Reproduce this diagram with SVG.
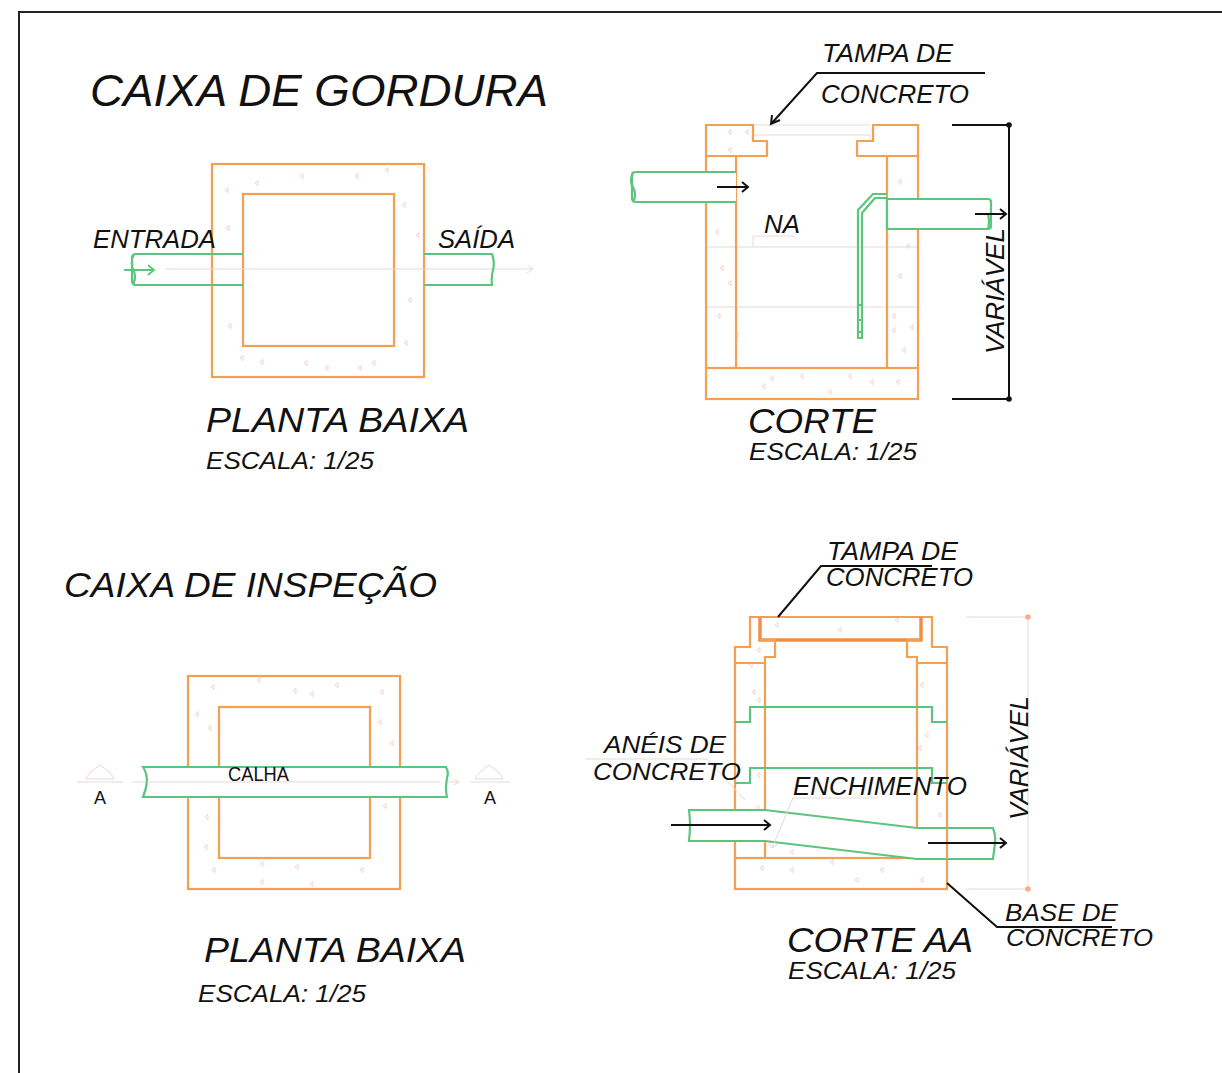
<svg xmlns="http://www.w3.org/2000/svg" width="1222" height="1073" viewBox="0 0 1222 1073">
<style>
text{font-family:"Liberation Sans",Arial,sans-serif;fill:#111;font-style:italic}
.u{font-style:normal}
.o{fill:none;stroke:#f59f52;stroke-width:2.2}
.ot{fill:none;stroke:#f28f3e;stroke-width:3.4}
.g{fill:none;stroke:#5cc47c;stroke-width:2.2}
.gf{fill:#fff;stroke:#5cc47c;stroke-width:2.2}
.k{fill:none;stroke:#111;stroke-width:2}
.f{fill:none;stroke:#e6d9d6;stroke-width:1}
.t{fill:none;stroke:#f3c0b8;stroke-width:.7}
</style>
<defs>
<path id="a" class="t" d="M0 0l3-2.5v5z"/>
</defs>
<rect width="1222" height="1073" fill="#fff"/>
<path d="M19 1073V12H1222" fill="none" stroke="#222" stroke-width="2"/>

<g id="titulos">
<text x="90" y="106" font-size="45" textLength="458" lengthAdjust="spacingAndGlyphs">CAIXA DE GORDURA</text>
<text x="64" y="597" font-size="35" textLength="373" lengthAdjust="spacingAndGlyphs">CAIXA DE INSPEÇÃO</text>
</g>

<g id="planta-gordura">
<g>
<use href="#a" x="255" y="183"/><use href="#a" x="300" y="176"/><use href="#a" x="355" y="176"/><use href="#a" x="385" y="170"/><use href="#a" x="225" y="190"/><use href="#a" x="402" y="205"/><use href="#a" x="416" y="235"/><use href="#a" x="226" y="228"/><use href="#a" x="408" y="300"/><use href="#a" x="404" y="343"/><use href="#a" x="228" y="326"/><use href="#a" x="240" y="358"/><use href="#a" x="260" y="362"/><use href="#a" x="304" y="363"/><use href="#a" x="372" y="363"/><use href="#a" x="358" y="368"/><use href="#a" x="325" y="368"/>
</g>
<rect class="o" x="212" y="164" width="212" height="213"/>
<rect class="o" x="243" y="194" width="151" height="152"/>
<path class="f" d="M165 269H533M527 265l6 4-6 4"/>
<path class="g" d="M243 254H136Q132 254 132 258V281Q132 285 136 285H243M134 254Q130 262 133 269Q137 276 133 285"/>
<path class="g" d="M424 254H492Q495 262 493 270Q491 278 492 285H424"/>
<path stroke="#5cc47c" stroke-width="1.8" fill="none" d="M124 270H154M148 265l6 5-6 5"/>
<text x="93" y="248" font-size="25" textLength="123" lengthAdjust="spacingAndGlyphs">ENTRADA</text>
<text x="438" y="248" font-size="25" textLength="77" lengthAdjust="spacingAndGlyphs">SAÍDA</text>
<text x="206" y="432" font-size="35" textLength="263" lengthAdjust="spacingAndGlyphs">PLANTA BAIXA</text>
<text x="206" y="469" font-size="24" textLength="168" lengthAdjust="spacingAndGlyphs">ESCALA: 1/25</text>
</g>

<g id="corte-gordura">
<g>
<use href="#a" x="728" y="132"/><use href="#a" x="745" y="132"/><use href="#a" x="728" y="150"/><use href="#a" x="715" y="232"/><use href="#a" x="720" y="268"/><use href="#a" x="728" y="283"/><use href="#a" x="717" y="316"/><use href="#a" x="735" y="335"/><use href="#a" x="898" y="182"/><use href="#a" x="906" y="246"/><use href="#a" x="898" y="276"/><use href="#a" x="892" y="316"/><use href="#a" x="892" y="330"/><use href="#a" x="910" y="327"/><use href="#a" x="902" y="350"/><use href="#a" x="770" y="378"/><use href="#a" x="800" y="376"/><use href="#a" x="848" y="376"/><use href="#a" x="870" y="382"/><use href="#a" x="896" y="382"/><use href="#a" x="762" y="386"/><use href="#a" x="828" y="392"/>
</g>
<path class="f" d="M706 247H918M706 307H918M753 236V247M753 236H795M753 135H870V141M753 125H870"/>
<path class="o" d="M706 368V125H753V141H767V156H706M736 156V368M918 368V125H873V141H857V156H918M887 156V368"/>
<rect class="o" x="706" y="368" width="212" height="31"/>
<path class="gf" d="M736 172H636Q632 172 632 176V198Q632 202 636 202H736"/>
<path class="g" d="M633 172Q629 182 633 187Q637 195 633 202"/>
<path class="gf" d="M887 199H988Q991 199 991 202V226Q991 229 988 229H887Z"/>
<path class="g" d="M988 214Q990 222 988 229M887 194H873L858 210V338H862V213L875 198H887M858 305H862M858 320H862M858 332H862"/>
<path class="k" d="M717 187H748M742 182l6 5-6 5M975 214H1006M1000 209l6 5-6 5"/>
<path class="k" d="M985 73H817L771 124M772 115L771 124L780 120"/>
<path class="k" d="M952 125H1009V399H952"/>
<circle cx="1009" cy="125" r="2.8" fill="#111"/><circle cx="1009" cy="399" r="2.8" fill="#111"/>
<text x="822" y="62" font-size="25" textLength="131" lengthAdjust="spacingAndGlyphs">TAMPA DE</text>
<text x="821" y="103" font-size="25" textLength="148" lengthAdjust="spacingAndGlyphs">CONCRETO</text>
<text x="764" y="233" font-size="25" textLength="36" lengthAdjust="spacingAndGlyphs">NA</text>
<text font-size="25" transform="translate(1004 354) rotate(-90)" textLength="126" lengthAdjust="spacingAndGlyphs">VARIÁVEL</text>
<text x="748" y="433" font-size="35" textLength="128" lengthAdjust="spacingAndGlyphs">CORTE</text>
<text x="749" y="460" font-size="24" textLength="168" lengthAdjust="spacingAndGlyphs">ESCALA: 1/25</text>
</g>

<g id="planta-inspecao">
<g>
<use href="#a" x="211" y="687"/><use href="#a" x="257" y="680"/><use href="#a" x="293" y="691"/><use href="#a" x="310" y="694"/><use href="#a" x="335" y="685"/><use href="#a" x="380" y="692"/><use href="#a" x="195" y="714"/><use href="#a" x="208" y="728"/><use href="#a" x="378" y="722"/><use href="#a" x="390" y="743"/><use href="#a" x="205" y="817"/><use href="#a" x="383" y="806"/><use href="#a" x="204" y="847"/><use href="#a" x="212" y="870"/><use href="#a" x="260" y="864"/><use href="#a" x="295" y="867"/><use href="#a" x="360" y="870"/><use href="#a" x="260" y="882"/><use href="#a" x="310" y="884"/>
</g>
<rect class="o" x="188" y="676" width="212" height="213"/>
<rect class="o" x="219" y="707" width="151" height="151"/>
<path class="f" d="M77 782H123M132 782H162M157 779l5 3-5 3M440 782H458M454 779l5 3-5 3M470 782H510"/>
<path class="f" d="M86 779Q87 774 100 765Q113 774 114 779Z M475 779Q476 774 489 765Q502 774 503 779Z"/>
<path class="gf" d="M143 767H446Q449 772 447 778Q445 790 447 797H143Q146 790 147 782Q147 773 143 767Z"/>
<path class="f" d="M147 782H440"/>
<text class="u" x="228" y="781" font-size="20" textLength="61" lengthAdjust="spacingAndGlyphs">CALHA</text>
<text class="u" x="94" y="804" font-size="18">A</text>
<text class="u" x="484" y="804" font-size="18">A</text>
<text x="204" y="962" font-size="35" textLength="262" lengthAdjust="spacingAndGlyphs">PLANTA BAIXA</text>
<text x="198" y="1002" font-size="24" textLength="168" lengthAdjust="spacingAndGlyphs">ESCALA: 1/25</text>
</g>

<g id="corte-inspecao">
<g>
<use href="#a" x="775" y="625"/><use href="#a" x="838" y="630"/><use href="#a" x="895" y="620"/><use href="#a" x="757" y="650"/><use href="#a" x="749" y="665"/><use href="#a" x="752" y="692"/><use href="#a" x="757" y="700"/><use href="#a" x="920" y="685"/><use href="#a" x="925" y="735"/><use href="#a" x="918" y="748"/><use href="#a" x="938" y="815"/><use href="#a" x="757" y="775"/><use href="#a" x="756" y="808"/><use href="#a" x="790" y="852"/><use href="#a" x="760" y="868"/><use href="#a" x="790" y="870"/><use href="#a" x="830" y="862"/><use href="#a" x="855" y="880"/><use href="#a" x="880" y="870"/><use href="#a" x="920" y="880"/>
</g>
<path class="o" d="M750 647V617H932V647H947V858H735V647Z"/>
<path class="ot" d="M760 617V640H921V617"/>
<path class="o" d="M760 640H775V657H765V858M921 640H907V657H917V858M735 663H765M917 663H947"/>
<rect class="o" x="735" y="858" width="212" height="31"/>
<path class="g" d="M735 722H750V707H932V722H947M735 783H750V768H932V783H947"/>
<path class="gf" d="M689 810H765L917 828H993Q996 836 995 843L993 859H917L765 841H689Q691 825 689 810Z"/>
<path class="o" d="M947 828V859"/>
<path class="f" d="M585 759H707L745 800M793 798H878M793 798L772 848M772 848l-4-6M772 848l6-4M966 617H1028V889H966"/>
<circle cx="1028" cy="617" r="2.8" fill="#f5b08a"/><circle cx="1028" cy="889" r="2.8" fill="#f5b08a"/>
<path class="k" d="M671 825H770M764 820l6 5-6 5M928 843H1006M1000 838l6 5-6 5"/>
<path class="k" d="M932 566H821L778 617M947 883L997 927H1112"/>
<text x="827" y="560" font-size="25" textLength="131" lengthAdjust="spacingAndGlyphs">TAMPA DE</text>
<text x="826" y="586" font-size="25" textLength="147" lengthAdjust="spacingAndGlyphs">CONCRETO</text>
<text x="604" y="753" font-size="24" textLength="122" lengthAdjust="spacingAndGlyphs">ANÉIS DE</text>
<text x="593" y="780" font-size="24" textLength="148" lengthAdjust="spacingAndGlyphs">CONCRETO</text>
<text x="793" y="795" font-size="25" textLength="174" lengthAdjust="spacingAndGlyphs">ENCHIMENTO</text>
<text font-size="25" transform="translate(1028 820) rotate(-90)" textLength="124" lengthAdjust="spacingAndGlyphs">VARIÁVEL</text>
<text x="1005" y="921" font-size="24" textLength="113" lengthAdjust="spacingAndGlyphs">BASE DE</text>
<text x="1006" y="946" font-size="24" textLength="147" lengthAdjust="spacingAndGlyphs">CONCRETO</text>
<text x="787" y="952" font-size="35" textLength="186" lengthAdjust="spacingAndGlyphs">CORTE AA</text>
<text x="788" y="979" font-size="24" textLength="168" lengthAdjust="spacingAndGlyphs">ESCALA: 1/25</text>
</g>
</svg>
